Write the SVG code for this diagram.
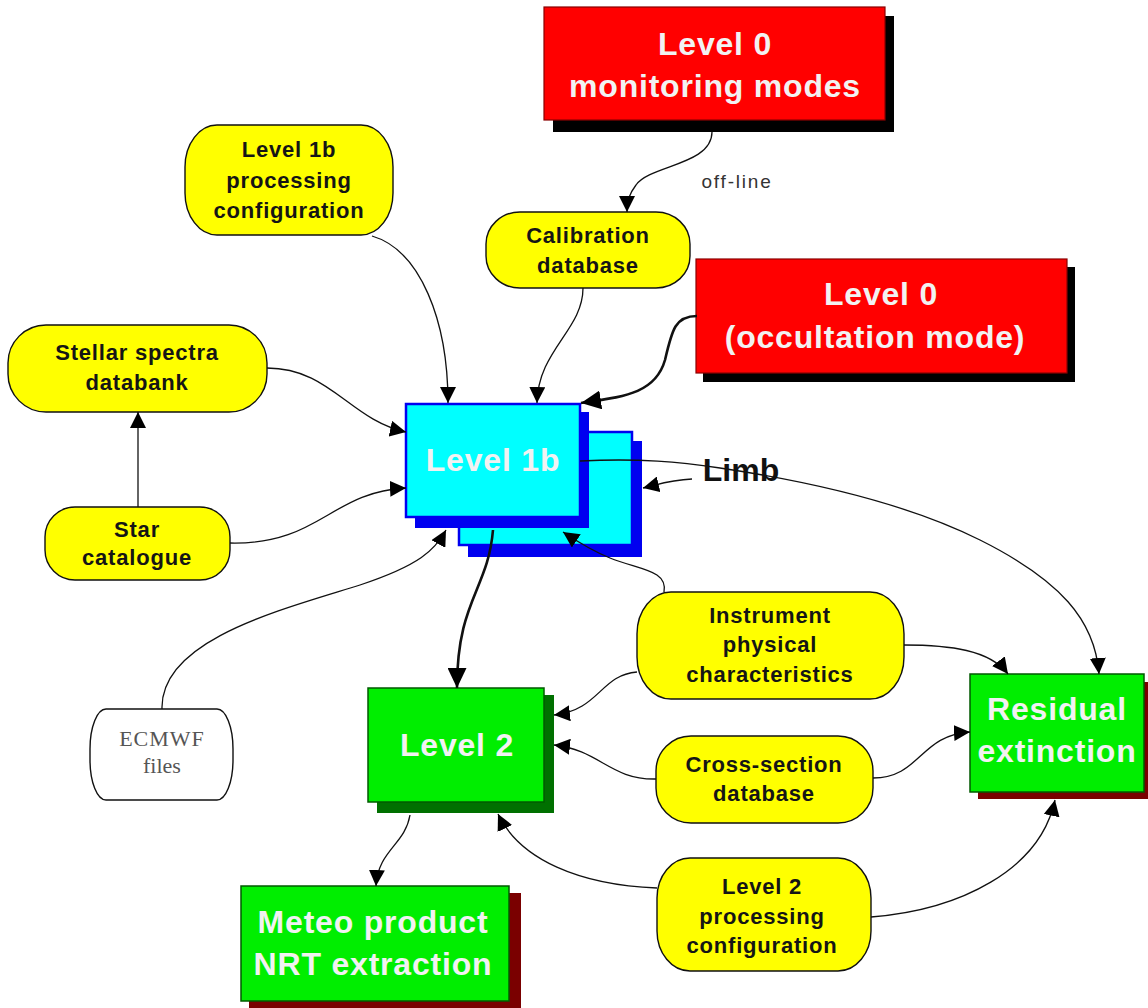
<svg xmlns="http://www.w3.org/2000/svg" width="1148" height="1008" viewBox="0 0 1148 1008">
<defs>
<style>
.y{fill:#ffff00;stroke:#111;stroke-width:1.4}
.yt{font-family:"Liberation Sans",Arial,sans-serif;font-weight:bold;font-size:22px;fill:#151515;text-anchor:middle;letter-spacing:0.8px}
.red{fill:#ff0000;stroke:#8a0000;stroke-width:1.2}
.grn{fill:#00ee00;stroke:#005a00;stroke-width:1.5}
.cy{fill:#00ffff;stroke:#0000f0;stroke-width:2.5}
.bt{font-family:"Liberation Sans",Arial,sans-serif;font-weight:bold;font-size:32px;fill:#f2f2f2;text-anchor:middle;letter-spacing:0.8px}
.c{fill:none;stroke:#111;stroke-width:1.3}
.ck{fill:none;stroke:#111;stroke-width:2.6}
</style>
<marker id="ah" markerUnits="userSpaceOnUse" markerWidth="17" markerHeight="16" refX="16" refY="8" orient="auto" viewBox="0 0 17 16">
<path d="M0,0 L16,8 L0,16 z" fill="#000"/>
</marker>
<marker id="ahk" markerUnits="userSpaceOnUse" markerWidth="21" markerHeight="19" refX="20" refY="9.5" orient="auto" viewBox="0 0 21 19">
<path d="M0,0 L20,9.5 L0,19 z" fill="#000"/>
</marker>
</defs>
<rect width="1148" height="1008" fill="#fff"/>

<g id="level0-monitoring">
<rect x="553" y="16" width="341" height="116" fill="#000"/>
<rect class="red" x="544" y="7" width="341" height="113"/>
<text class="bt" x="715" y="55">Level 0</text>
<text class="bt" x="715" y="97">monitoring modes</text>
</g>
<text x="737" y="188" font-family="Liberation Sans,Arial,sans-serif" font-size="19" fill="#333" text-anchor="middle" letter-spacing="1.8">off-line</text>

<g id="l1b-proc">
<rect class="y" x="185" y="125" width="208" height="110" rx="32" ry="42"/>
<text class="yt" x="289" y="157">Level 1b</text>
<text class="yt" x="289" y="188">processing</text>
<text class="yt" x="289" y="218">configuration</text>
</g>

<g id="calibration">
<rect class="y" x="486" y="212" width="204" height="76" rx="34" ry="32"/>
<text class="yt" x="588" y="243">Calibration</text>
<text class="yt" x="588" y="273">database</text>
</g>

<g id="level0-occ">
<rect x="703" y="267" width="372" height="115" fill="#000"/>
<rect class="red" x="696" y="259" width="371" height="114"/>
<text class="bt" x="881" y="305">Level 0</text>
<text class="bt" x="875" y="348">(occultation mode)</text>
</g>

<g id="stellar">
<rect class="y" x="8" y="325" width="259" height="87" rx="38" ry="38"/>
<text class="yt" x="137" y="360">Stellar spectra</text>
<text class="yt" x="137" y="390">databank</text>
</g>

<g id="star">
<rect class="y" x="45" y="507" width="185" height="73" rx="30" ry="30"/>
<text class="yt" x="137" y="537">Star</text>
<text class="yt" x="137" y="565">catalogue</text>
</g>

<g id="level1b">
<rect x="468" y="441" width="174" height="116" fill="#0000f0"/>
<rect class="cy" x="459" y="432" width="173" height="113"/>
<rect x="415" y="412" width="174" height="116" fill="#0000f0"/>
<rect class="cy" x="406" y="404" width="174" height="113"/>
<text class="bt" x="493" y="471">Level 1b</text>
</g>
<text x="741" y="481" font-family="Liberation Sans,Arial,sans-serif" font-weight="bold" font-size="32" fill="#111" text-anchor="middle">Limb</text>

<g id="instrument">
<rect class="y" x="637" y="592" width="267" height="107" rx="34" ry="42"/>
<text class="yt" x="770" y="623">Instrument</text>
<text class="yt" x="770" y="652">physical</text>
<text class="yt" x="770" y="682">characteristics</text>
</g>

<g id="residual">
<rect x="978" y="682" width="170" height="117" fill="#7a0000"/>
<rect class="grn" x="970" y="674" width="174" height="118"/>
<text class="bt" x="1057" y="720">Residual</text>
<text class="bt" x="1057" y="762">extinction</text>
</g>

<g id="level2">
<rect x="377" y="695" width="177" height="118" fill="#007000"/>
<rect class="grn" x="368" y="688" width="176" height="114"/>
<text class="bt" x="457" y="756">Level 2</text>
</g>

<g id="ecmwf">
<rect x="90" y="709" width="143" height="91" rx="16" ry="40" fill="#fff" stroke="#111" stroke-width="1.4"/>
<text x="162" y="746" font-family="Liberation Serif,Times New Roman,serif" font-size="22" fill="#555" text-anchor="middle" letter-spacing="1">ECMWF</text>
<text x="162" y="773" font-family="Liberation Serif,Times New Roman,serif" font-size="22" fill="#555" text-anchor="middle">files</text>
</g>

<g id="cross-section">
<rect class="y" x="656" y="736" width="217" height="87" rx="35" ry="35"/>
<text class="yt" x="764" y="772">Cross-section</text>
<text class="yt" x="764" y="801">database</text>
</g>

<g id="l2-proc">
<rect class="y" x="657" y="858" width="214" height="113" rx="33" ry="40"/>
<text class="yt" x="762" y="894">Level 2</text>
<text class="yt" x="762" y="924">processing</text>
<text class="yt" x="762" y="953">configuration</text>
</g>

<g id="meteo">
<rect x="249" y="893" width="272" height="115" fill="#7a0000"/>
<rect class="grn" x="241" y="886" width="268" height="115"/>
<text class="bt" x="373" y="933">Meteo product</text>
<text class="bt" x="373" y="975">NRT extraction</text>
</g>

<g id="connectors">
<path class="c" d="M712,132 C712,165 650,165 636,185 C630,193 627,200 627,212" marker-end="url(#ah)"/>
<path class="c" d="M372,236 C420,250 448,320 448,403" marker-end="url(#ah)"/>
<path class="c" d="M583,288 C583,330 538,350 537,403" marker-end="url(#ah)"/>
<path class="ck" d="M697,316 C675,316 672,330 665,360 C655,395 620,397 581,403" marker-end="url(#ahk)"/>
<path class="c" d="M267,368 C330,368 350,420 406,432" marker-end="url(#ah)"/>
<path class="c" d="M138,507 L138,412" marker-end="url(#ah)"/>
<path class="c" d="M230,543 C320,545 330,492 406,488" marker-end="url(#ah)"/>
<path class="c" d="M162,709 C160,640 280,610 360,585 C420,565 435,550 446,530" marker-end="url(#ah)"/>
<path class="c" d="M580,461 C640,458 680,462 720,468 C800,480 900,500 980,540 C1060,580 1095,620 1099,674" marker-end="url(#ah)"/>
<path class="c" d="M692,479 C670,480 660,484 643,488" marker-end="url(#ah)"/>
<path class="c" d="M664,592 C668,570 640,570 610,558 C590,550 575,540 563,532" marker-end="url(#ah)"/>
<path class="c" d="M637,672 C600,675 600,710 554,715" marker-end="url(#ah)"/>
<path class="c" d="M904,645 C950,645 990,650 1008,674" marker-end="url(#ah)"/>
<path class="c" d="M656,779 C610,780 600,750 554,745" marker-end="url(#ah)"/>
<path class="c" d="M873,778 C920,778 920,735 970,732" marker-end="url(#ah)"/>
<path class="c" d="M657,888 C580,885 520,860 498,814" marker-end="url(#ah)"/>
<path class="c" d="M871,917 C960,910 1040,870 1055,800" marker-end="url(#ah)"/>
<path class="ck" d="M493,530 C488,590 457,600 457,688" marker-end="url(#ahk)"/>
<path class="c" d="M410,815 C405,845 378,850 376,886" marker-end="url(#ah)"/>
</g>
</svg>
